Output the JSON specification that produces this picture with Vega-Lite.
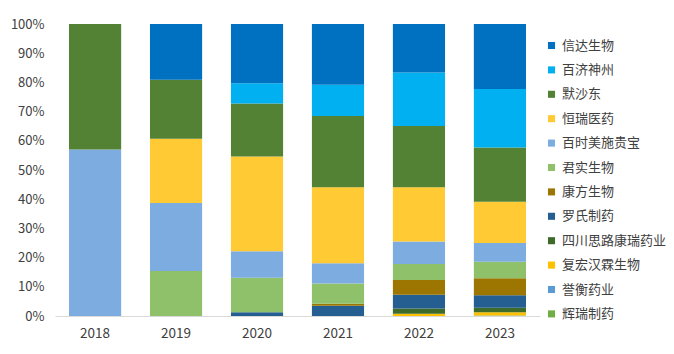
{
  "$schema": "https://vega.github.io/schema/vega-lite/v6.json",
  "width": 485,
  "height": 292,
  "autosize": {"type": "none"},
  "padding": {"left": 55, "top": 24, "right": 134, "bottom": 38},
  "background": "white",
  "config": {
    "view": {"stroke": null},
    "font": "Noto Sans CJK SC"
  },
  "data": {
    "values": [
      {"year": "2018", "company": "百时美施贵宝", "share": 57.0},
      {"year": "2018", "company": "默沙东", "share": 43.0},
      {"year": "2019", "company": "君实生物", "share": 15.4},
      {"year": "2019", "company": "百时美施贵宝", "share": 23.3},
      {"year": "2019", "company": "恒瑞医药", "share": 22.0},
      {"year": "2019", "company": "默沙东", "share": 20.2},
      {"year": "2019", "company": "信达生物", "share": 19.1},
      {"year": "2020", "company": "罗氏制药", "share": 1.3},
      {"year": "2020", "company": "君实生物", "share": 11.8},
      {"year": "2020", "company": "百时美施贵宝", "share": 9.1},
      {"year": "2020", "company": "恒瑞医药", "share": 32.4},
      {"year": "2020", "company": "默沙东", "share": 18.2},
      {"year": "2020", "company": "百济神州", "share": 6.9},
      {"year": "2020", "company": "信达生物", "share": 20.3},
      {"year": "2021", "company": "罗氏制药", "share": 3.5},
      {"year": "2021", "company": "康方生物", "share": 0.7},
      {"year": "2021", "company": "君实生物", "share": 6.9},
      {"year": "2021", "company": "百时美施贵宝", "share": 7.0},
      {"year": "2021", "company": "恒瑞医药", "share": 26.0},
      {"year": "2021", "company": "默沙东", "share": 24.4},
      {"year": "2021", "company": "百济神州", "share": 10.7},
      {"year": "2021", "company": "信达生物", "share": 20.8},
      {"year": "2022", "company": "复宏汉霖生物", "share": 0.8},
      {"year": "2022", "company": "四川思路康瑞药业", "share": 1.8},
      {"year": "2022", "company": "罗氏制药", "share": 4.7},
      {"year": "2022", "company": "康方生物", "share": 5.0},
      {"year": "2022", "company": "君实生物", "share": 5.5},
      {"year": "2022", "company": "百时美施贵宝", "share": 7.7},
      {"year": "2022", "company": "恒瑞医药", "share": 18.6},
      {"year": "2022", "company": "默沙东", "share": 21.0},
      {"year": "2022", "company": "百济神州", "share": 18.3},
      {"year": "2022", "company": "信达生物", "share": 16.6},
      {"year": "2023", "company": "辉瑞制药", "share": 0.1},
      {"year": "2023", "company": "誉衡药业", "share": 0.1},
      {"year": "2023", "company": "复宏汉霖生物", "share": 1.1},
      {"year": "2023", "company": "四川思路康瑞药业", "share": 1.5},
      {"year": "2023", "company": "罗氏制药", "share": 4.3},
      {"year": "2023", "company": "康方生物", "share": 5.8},
      {"year": "2023", "company": "君实生物", "share": 5.7},
      {"year": "2023", "company": "百时美施贵宝", "share": 6.4},
      {"year": "2023", "company": "恒瑞医药", "share": 14.2},
      {"year": "2023", "company": "默沙东", "share": 18.6},
      {"year": "2023", "company": "百济神州", "share": 20.0},
      {"year": "2023", "company": "信达生物", "share": 22.3}
    ]
  },
  "transform": [
    {"calculate": "indexof(['信达生物','百济神州','默沙东','恒瑞医药','百时美施贵宝','君实生物','康方生物','罗氏制药','四川思路康瑞药业','复宏汉霖生物','誉衡药业','辉瑞制药'], datum.company)", "as": "rank"}
  ],
  "mark": {"type": "bar"},
  "encoding": {
    "x": {
      "field": "year",
      "type": "nominal",
      "scale": {"paddingInner": 0.356, "paddingOuter": 0.173},
      "axis": {
        "title": null,
        "labelAngle": 0,
        "ticks": false,
        "domainColor": "#d9d9d9",
        "domainWidth": 1,
        "labelFontSize": 13.5,
        "labelColor": "#404040",
        "labelPadding": 10,
        "grid": false
      }
    },
    "y": {
      "field": "share",
      "type": "quantitative",
      "stack": "normalize",
      "scale": {"domain": [0, 1]},
      "axis": {
        "title": null,
        "format": ".0%",
        "values": [0, 0.1, 0.2, 0.3, 0.4, 0.5, 0.6, 0.7, 0.8, 0.9, 1],
        "domain": false,
        "ticks": false,
        "grid": false,
        "labelFontSize": 13,
        "labelColor": "#404040",
        "labelPadding": 11
      }
    },
    "order": {"field": "rank", "type": "quantitative", "sort": "descending"},
    "color": {
      "field": "company",
      "type": "nominal",
      "scale": {
        "domain": ["信达生物","百济神州","默沙东","恒瑞医药","百时美施贵宝","君实生物","康方生物","罗氏制药","四川思路康瑞药业","复宏汉霖生物","誉衡药业","辉瑞制药"],
        "range": ["#0070C0","#00B0F0","#548235","#FFCA33","#7DADE0","#8FC16A","#9C7600","#255E91","#3E6B2A","#FFC000","#5B9BD5","#70AD47"]
      },
      "legend": {
        "title": null,
        "orient": "none",
        "legendX": 490,
        "legendY": 15,
        "padding": 0,
        "symbolType": "square",
        "symbolSize": 50,
        "symbolStrokeWidth": 0,
        "labelFontSize": 13,
        "labelColor": "#404040",
        "labelOffset": 4,
        "rowPadding": 10.4,
        "labelLimit": 200
      }
    }
  }
}
